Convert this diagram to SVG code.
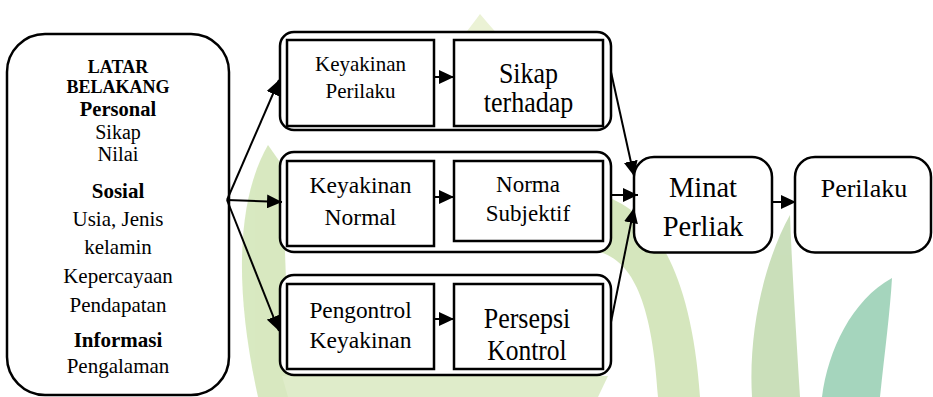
<svg xmlns="http://www.w3.org/2000/svg" width="933" height="397" viewBox="0 0 933 397">
<defs>
<marker id="ah" markerUnits="userSpaceOnUse" markerWidth="15" markerHeight="14" refX="15" refY="7" orient="auto">
<path d="M0,0 L15,7 L0,14 Z" fill="#000"/>
</marker>
</defs>
<style>
text{font-family:'Liberation Serif','Times New Roman',serif;fill:#000;text-anchor:middle}
.b{font-weight:bold}
.outer{fill:#fff;stroke:#000;stroke-width:2.5}
.inner{fill:#fff;stroke:#000;stroke-width:2.5}
.c{stroke:#000;stroke-width:2;fill:none;marker-end:url(#ah)}
</style>
<rect width="933" height="397" fill="#fff"/>
<g id="watermark" opacity="0.7">
<path d="M445 60 C458 42 470 28 480 14 C492 28 505 42 518 60 Z" fill="#e3edc4"/>
<path d="M268 145 C242 190 230 270 258 397 L290 397 L282 165 Z" fill="#c8dfa6"/>
<path d="M600 195 C640 205 690 250 700 397 L658 397 C652 300 632 262 600 252 Z" fill="#c4dca2"/>
<path d="M790 215 C765 260 748 330 752 397 L800 397 C796 330 792 270 790 215 Z" fill="#b4d29e"/>
<path d="M892 278 C852 300 828 350 822 397 L880 397 C885 350 890 312 892 278 Z" fill="#80c4a2"/>
<path d="M282 376 L608 376 L598 397 L288 397 Z" fill="#d2e5b4"/>
</g>
<g id="latar">
<rect class="outer" x="7" y="34" width="222" height="361" rx="38"/>
<text class="b" x="118" y="72.7" font-size="18">LATAR</text>
<text class="b" x="118" y="92.7" font-size="18">BELAKANG</text>
<text class="b" x="118" y="116" font-size="20.5">Personal</text>
<text x="118" y="139" font-size="20">Sikap</text>
<text x="118" y="161" font-size="20.5">Nilai</text>
<text class="b" x="118" y="198" font-size="21">Sosial</text>
<text x="118" y="226" font-size="21">Usia, Jenis</text>
<text x="118" y="254" font-size="21">kelamin</text>
<text x="118" y="282.5" font-size="21">Kepercayaan</text>
<text x="118" y="312" font-size="21">Pendapatan</text>
<text class="b" x="118" y="347" font-size="21">Informasi</text>
<text x="118" y="373" font-size="21">Pengalaman</text>
</g>
<g id="group-sikap">
<rect class="outer" x="280" y="32" width="331" height="98" rx="14"/>
<g id="keyakinan-perilaku">
<rect class="inner" x="287" y="40" width="147" height="86"/>
<text x="360.5" y="70.7" font-size="21">Keyakinan</text>
<text x="360.5" y="98.3" font-size="21">Perilaku</text>
</g>
<g id="sikap-terhadap">
<rect class="inner" x="454" y="40" width="149" height="86"/>
<text font-size="26" transform="translate(528.5,83.3) scale(1,1.15)">Sikap</text>
<text font-size="26" transform="translate(528.5,111.7) scale(1,1.15)">terhadap</text>
</g>
</g>
<g id="group-norma">
<rect class="outer" x="280" y="152" width="331" height="100" rx="14"/>
<g id="keyakinan-normal">
<rect class="inner" x="287" y="161" width="147" height="85"/>
<text x="360.5" y="193.3" font-size="23.5">Keyakinan</text>
<text x="360.5" y="225" font-size="23.5">Normal</text>
</g>
<g id="norma-subjektif">
<rect class="inner" x="454" y="161" width="149" height="80"/>
<text x="528" y="191.7" font-size="23">Norma</text>
<text x="528" y="221" font-size="23">Subjektif</text>
</g>
</g>
<g id="group-kontrol">
<rect class="outer" x="280" y="275" width="331" height="100" rx="14"/>
<g id="pengontrol-keyakinan">
<rect class="inner" x="287" y="284" width="147" height="85"/>
<text x="360.5" y="318.3" font-size="23.3">Pengontrol</text>
<text x="360.5" y="348.3" font-size="23.5">Keyakinan</text>
</g>
<g id="persepsi-kontrol">
<rect class="inner" x="454" y="284" width="149" height="85"/>
<text font-size="26" transform="translate(527,328.3) scale(1,1.12)">Persepsi</text>
<text font-size="25.5" transform="translate(527,360) scale(1,1.12)">Kontrol</text>
</g>
</g>
<g id="minat">
<rect class="outer" x="634" y="157" width="138" height="95.5" rx="20"/>
<text x="703" y="197.3" font-size="28.5">Minat</text>
<text x="703" y="235.7" font-size="28.5">Perliak</text>
</g>
<g id="perilaku">
<rect class="outer" x="795" y="157" width="136" height="95.5" rx="20"/>
<text x="864" y="197.3" font-size="26">Perilaku</text>
</g>
<g id="connectors">
<line class="c" x1="227" y1="200" x2="279" y2="80"/>
<line class="c" x1="227" y1="200" x2="282" y2="202"/>
<line class="c" x1="227" y1="200" x2="279" y2="331"/>
<line class="c" x1="434" y1="77" x2="454" y2="77"/>
<line class="c" x1="434" y1="197" x2="454" y2="197"/>
<line class="c" x1="434" y1="319" x2="454" y2="319"/>
<line class="c" x1="611" y1="72" x2="634" y2="176"/>
<line class="c" x1="611" y1="195" x2="638" y2="195"/>
<line class="c" x1="611" y1="322" x2="634" y2="208"/>
<line class="c" x1="772" y1="202" x2="796" y2="202"/>
</g>
</svg>
